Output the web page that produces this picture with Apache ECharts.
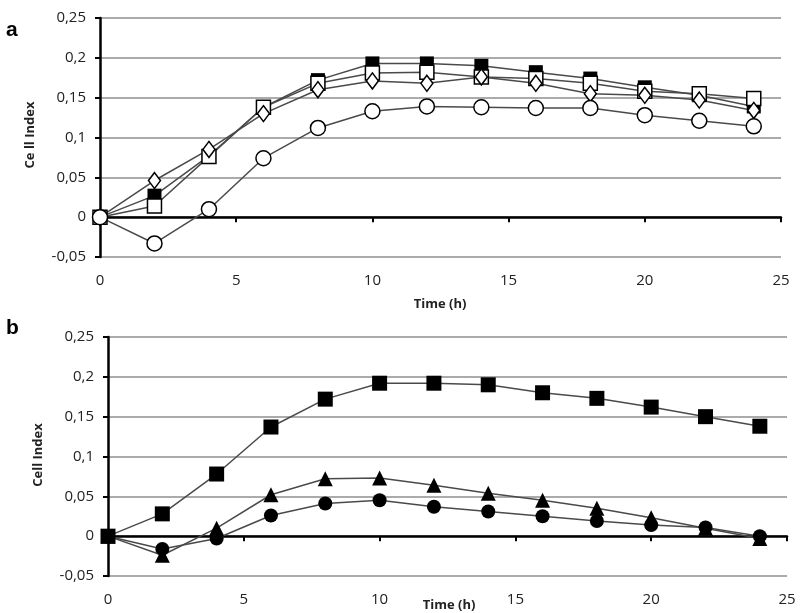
<!DOCTYPE html>
<html>
<head>
<meta charset="utf-8">
<script src="https://cdn.jsdelivr.net/npm/echarts@6/dist/echarts.min.js"></script>
<style>
  html, body { margin: 0; padding: 0; background: #fff; }
  #chart { width: 800px; height: 613px; }
</style>
</head>
<body>
<div id="chart"></div>
<script>
// time points (h)
const hours = [0, 2, 4, 6, 8, 10, 12, 14, 16, 18, 20, 22, 24];
const yTicks = { min: -0.05, max: 0.25, step: 0.05 };

// panel a
const aFilledSquare = [0, 0.027, 0.077, 0.138, 0.172, 0.193, 0.193, 0.19, 0.182, 0.174, 0.163, 0.153, 0.139];
const aOpenSquare   = [0, 0.014, 0.076, 0.138, 0.168, 0.181, 0.182, 0.176, 0.174, 0.168, 0.158, 0.155, 0.149];
const aDiamond      = [0, 0.046, 0.085, 0.13, 0.16, 0.171, 0.168, 0.176, 0.168, 0.155, 0.153, 0.147, 0.134];
const aOpenCircle   = [0, -0.033, 0.01, 0.074, 0.112, 0.133, 0.139, 0.138, 0.137, 0.137, 0.128, 0.121, 0.114];

// panel b
const bFilledSquare = [0, 0.028, 0.078, 0.137, 0.172, 0.192, 0.192, 0.19, 0.18, 0.173, 0.162, 0.15, 0.138];
const bTriangle     = [0, -0.024, 0.01, 0.052, 0.072, 0.073, 0.064, 0.054, 0.045, 0.035, 0.023, 0.01, -0.003];
const bFilledCircle = [0, -0.016, -0.003, 0.026, 0.041, 0.045, 0.037, 0.031, 0.025, 0.019, 0.014, 0.011, 0];

const font = '"Open Sans", sans-serif';
const lineColor = '#4a4a4a';

const pairs = vals => hours.map((h, i) => [h, vals[i]]);
const fmt = v => String(+v.toFixed(2)).replace('.', ',');

function makeGrid(top, left, right) {
    return { left: left, right: right, top: top, height: 239 };
}

function makeXAxes(gridIndex) {
    return [
        {
            gridIndex, type: 'value', min: 0, max: 25, interval: 5, z: 5,
            axisLine: { onZero: true, lineStyle: { color: '#000', width: 2.5 } },
            axisTick: { show: true, length: 5, lineStyle: { color: '#000', width: 2 } },
            axisLabel: { show: false },
            splitLine: { show: false }
        },
        {
            gridIndex, type: 'value', min: 0, max: 25, interval: 5, position: 'bottom',
            axisLine: { show: false, onZero: false },
            axisTick: { show: false },
            axisLabel: { color: '#222', fontFamily: font, fontSize: 15, margin: 16 },
            splitLine: { show: false }
        }
    ];
}

function makeYAxis(gridIndex) {
    return {
        gridIndex, type: 'value', min: yTicks.min, max: yTicks.max, interval: yTicks.step,
        axisLine: { show: true, lineStyle: { color: '#000', width: 2.5 } },
        axisTick: { show: true, length: 5, lineStyle: { color: '#000', width: 2 } },
        axisLabel: { color: '#222', fontFamily: font, fontSize: 15, margin: 14, formatter: fmt },
        splitLine: { lineStyle: { color: '#ababab', width: 2 } }
    };
}

function makeSeries(vals, xAxisIndex, yAxisIndex, symbol, size, filled) {
    return {
        type: 'line',
        xAxisIndex, yAxisIndex,
        data: pairs(vals),
        symbol, symbolSize: size,
        showAllSymbol: true,
        lineStyle: { color: lineColor, width: 1.5 },
        itemStyle: {
            color: filled ? '#000' : '#fff',
            borderColor: '#000',
            borderWidth: filled ? 0 : 1.5
        },
        z: 6
    };
}

const chart = echarts.init(document.getElementById('chart'));

const option = {
    backgroundColor: '#fff',
    animation: false,
    grid: [makeGrid(18, 100, 19), makeGrid(337, 108, 13)],
    xAxis: makeXAxes(0).concat(makeXAxes(1)),
    yAxis: [makeYAxis(0), makeYAxis(1)],
    series: [
        makeSeries(aFilledSquare, 0, 0, 'rect', 14, true),
        makeSeries(aOpenSquare, 0, 0, 'rect', 14, false),
        makeSeries(aDiamond, 0, 0, 'diamond', [12, 16], false),
        makeSeries(aOpenCircle, 0, 0, 'circle', 15, false),
        makeSeries(bFilledSquare, 2, 1, 'rect', 15, true),
        makeSeries(bTriangle, 2, 1, 'triangle', 15, true),
        makeSeries(bFilledCircle, 2, 1, 'circle', 14, true)
    ],
    graphic: [
        { type: 'text', left: 6, top: 20, style: { text: 'a', font: 'bold 21px "Liberation Sans", Arial', fill: '#000' } },
        { type: 'text', left: 6, top: 318, style: { text: 'b', font: 'bold 21px "Liberation Sans", Arial', fill: '#000' } },
        { type: 'text', x: 440, y: 304, style: { text: 'Time (h)', font: 'bold 13px ' + font, fill: '#222', align: 'center', verticalAlign: 'middle' } },
        { type: 'text', x: 449, y: 605, style: { text: 'Time (h)', font: 'bold 13px ' + font, fill: '#222', align: 'center', verticalAlign: 'middle' } },
        { type: 'text', x: 30, y: 135, rotation: Math.PI / 2, style: { text: 'Ce ll Index', font: 'bold 13px ' + font, fill: '#222', align: 'center', verticalAlign: 'middle' } },
        { type: 'text', x: 38, y: 455, rotation: Math.PI / 2, style: { text: 'Cell Index', font: 'bold 13px ' + font, fill: '#222', align: 'center', verticalAlign: 'middle' } }
    ]
};

chart.setOption(option);

window.addEventListener('resize', () => chart.resize());
</script>
</body>
</html>
